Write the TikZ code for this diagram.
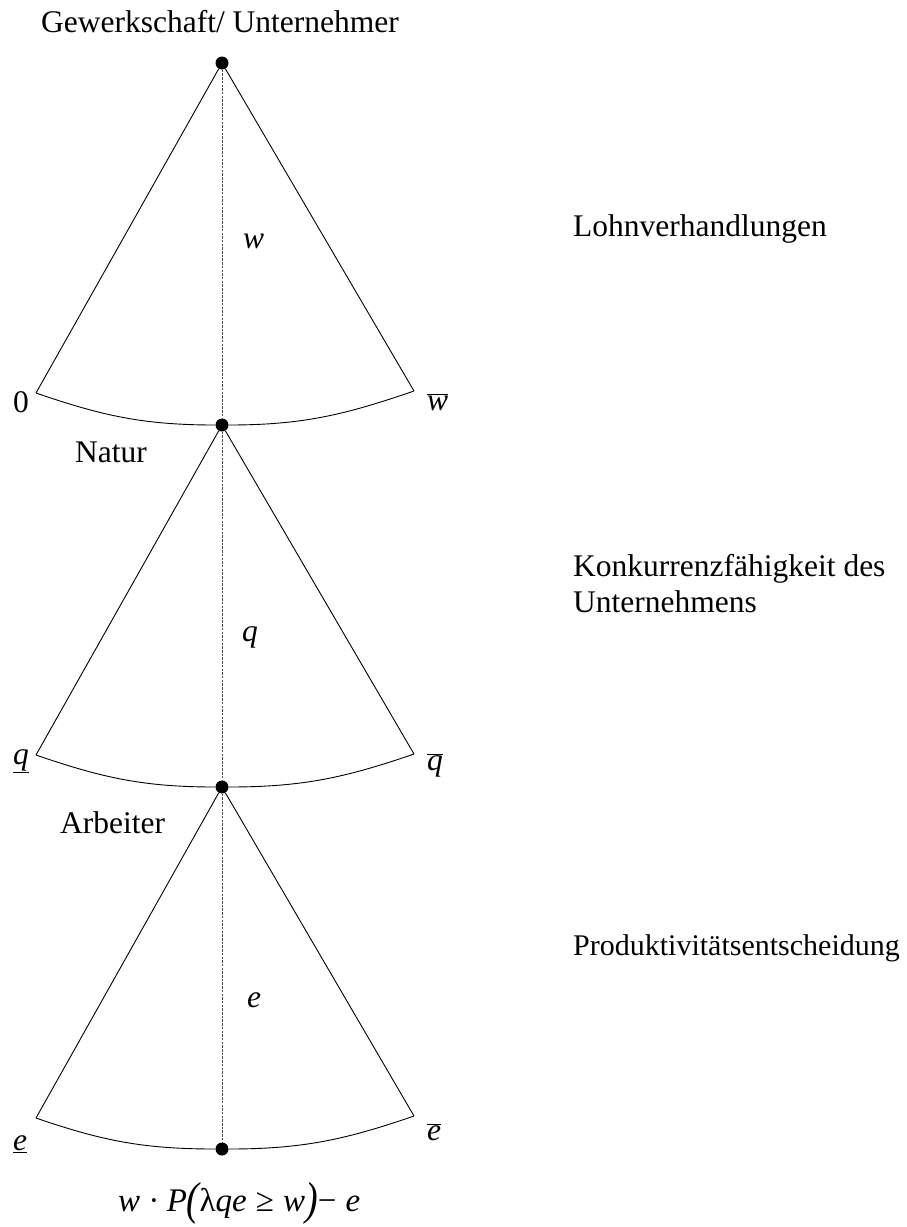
\documentclass[tikz,border=0pt]{standalone}
\usepackage{fontspec}
\setmainfont{Liberation Serif}
\newcommand\mainsize{\fontsize{31.5}{36}\selectfont}
\newcommand\bigpar[1]{\raisebox{-0.12em}{\scalebox{1.15}[1.4]{#1}}}
\newcommand\barred[1]{$\overline{\hbox{\itshape #1}}$}
\begin{document}
\begin{tikzpicture}[x=1pt,y=-1pt,
  every node/.style={font=\mainsize, inner sep=0pt},
  dot/.style={circle, fill=black, inner sep=0pt, minimum size=13pt},
  edge/.style={line width=0.9pt},
  axis/.style={line width=0.8pt, draw=black!70, dash pattern=on 2.5pt off 1.2pt},
  lbl/.style={anchor=base west}]
\useasboundingbox (0,0) rectangle (907,1227);
% decision nodes
\node[dot] (n1) at (222,63) {};
\node[dot] (n2) at (222,425) {};
\node[dot] (n3) at (222,787) {};
\node[dot] (n4) at (222,1149) {};
% corners
\coordinate (l1) at (36,393);  \coordinate (r1) at (414,391);
\coordinate (l2) at (36,755);  \coordinate (r2) at (414,754);
\coordinate (l3) at (36,1118); \coordinate (r3) at (414,1116);
% fans
\draw[edge] (l1) -- (n1) -- (r1);
\draw[edge] (l1) to[out=-19,in=180] (n2) to[out=0,in=-161] (r1);
\draw[axis] (n1) -- (n2);
\draw[edge] (l2) -- (n2) -- (r2);
\draw[edge] (l2) to[out=-19,in=180] (n3) to[out=0,in=-161] (r2);
\draw[axis] (n2) -- (n3);
\draw[edge] (l3) -- (n3) -- (r3);
\draw[edge] (l3) to[out=-19,in=180] (n4) to[out=0,in=-161] (r3);
\draw[axis] (n3) -- (n4);
% player labels
\node[anchor=base] (t1) at (220,32) {Gewerkschaft/ Unternehmer};
\node[lbl] (t2) at (75,462) {Natur};
\node[lbl] (t3) at (60,833) {Arbeiter};
% action labels
\node[lbl] (a1) at (243,248) {\itshape w};
\node[lbl] (a2) at (242,641) {\itshape q};
\node[lbl] (a3) at (247,1007) {\itshape e};
% range labels
\node[lbl] (m1) at (13,412) {0};
\node[lbl] (M1) at (427,410) {\barred{w}};
\node[lbl] (m2) at (13,764) {\underline{\itshape q}};
\node[lbl] (M2) at (427,770) {\barred{q}};
\node[lbl] (m3) at (13,1150) {\underline{\itshape e}};
\node[lbl] (M3) at (427,1140) {\barred{e}};
% stage descriptions
\node[lbl] (s1) at (573,236) {Lohnverhandlungen};
\node[lbl] (s2) at (573,576) {Konkurrenzfähigkeit des};
\node[lbl] (s2b) at (573,612) {Unternehmens};
\node[lbl,font=\fontsize{30}{36}\selectfont] (s3) at (573,955) {Produktivitätsentscheidung};
% payoff
\node[lbl,font=\fontsize{33}{38}\selectfont] (p) at (118,1211) {\itshape w\;·\;P\bigpar{(}\upshape λ\itshape qe\;\upshape ≥\;\itshape w\bigpar{)}\upshape −\;\itshape e};
\end{tikzpicture}
\end{document}
